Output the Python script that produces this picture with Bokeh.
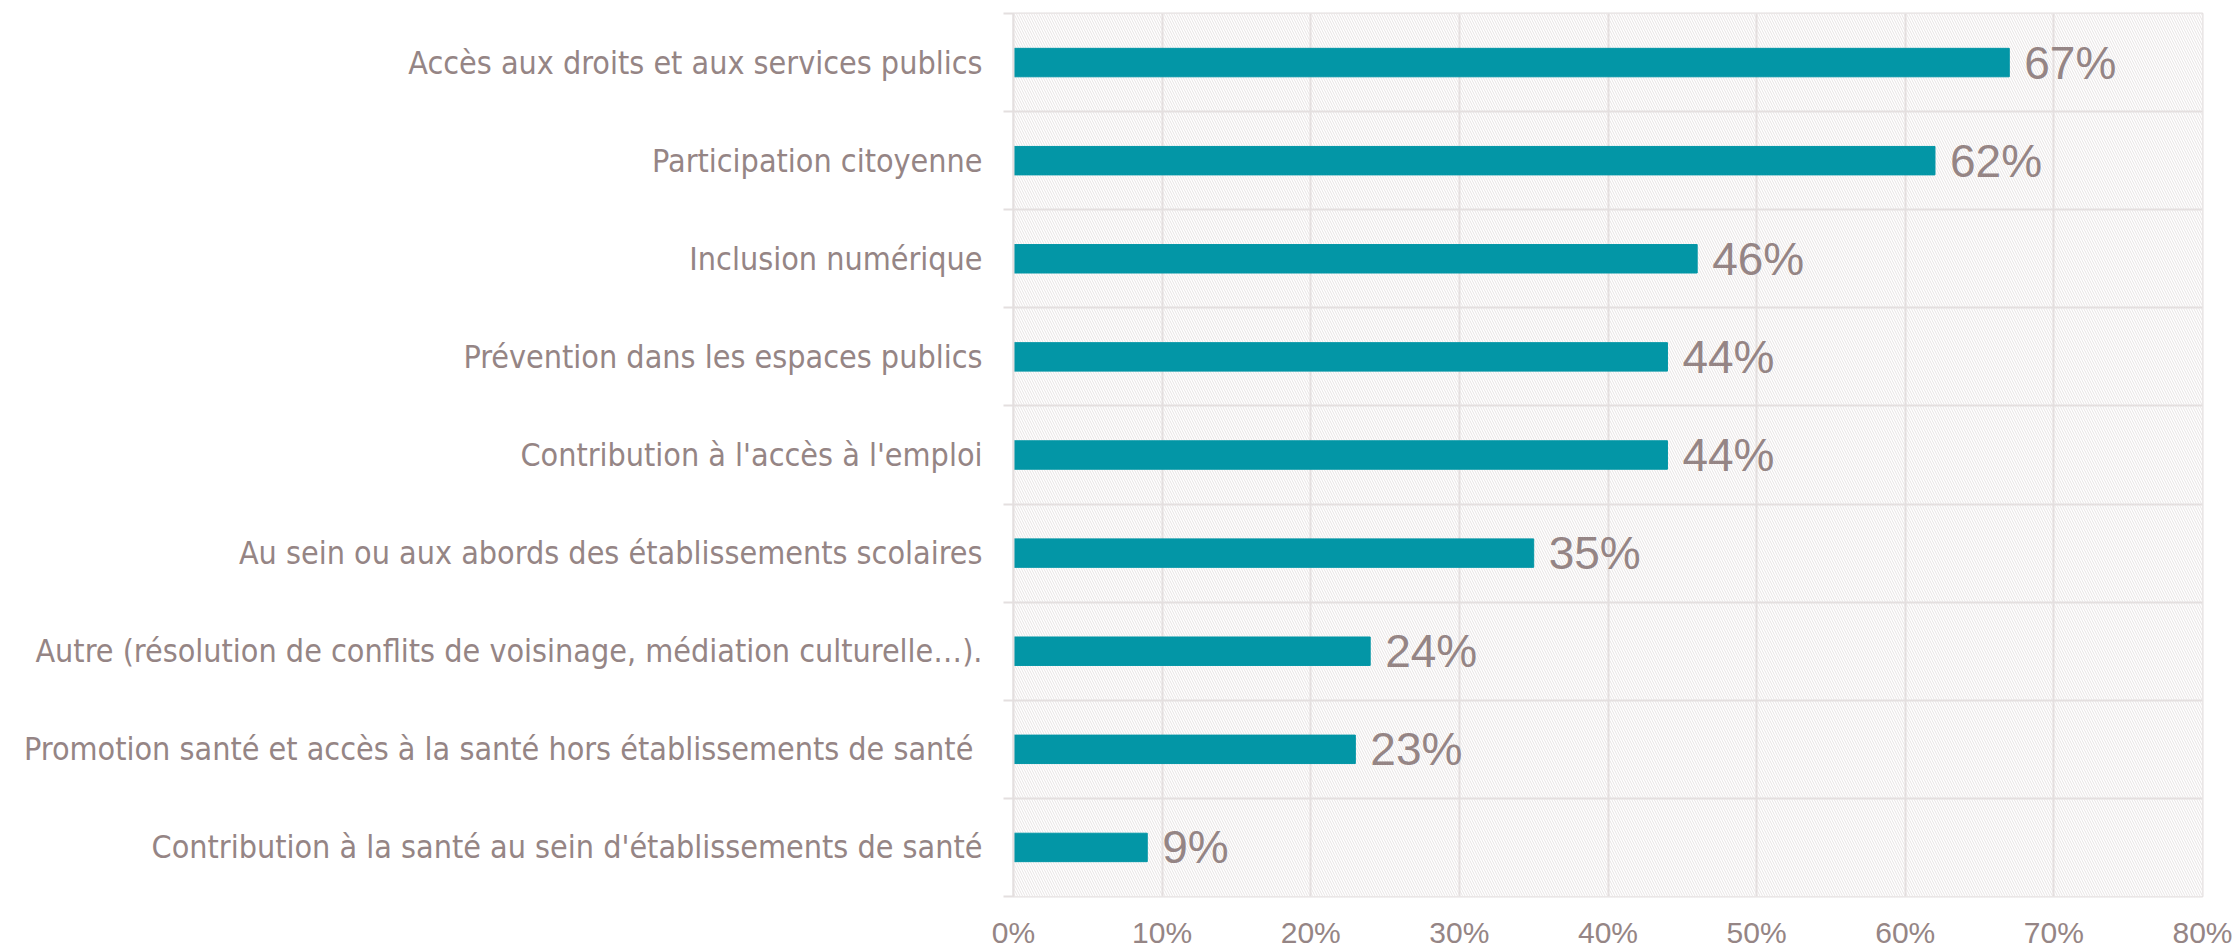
from bokeh.plotting import figure
from bokeh.models import Range1d, FixedTicker, NumeralTickFormatter, BoxAnnotation, ColumnDataSource
from bokeh.core.properties import value
from bokeh.embed import file_html
from bokeh.resources import INLINE

categories = [
    "Accès aux droits et aux services publics",
    "Participation citoyenne",
    "Inclusion numérique",
    "Prévention dans les espaces publics",
    "Contribution à l'accès à l'emploi",
    "Au sein ou aux abords des établissements scolaires",
    "Autre (résolution de conflits de voisinage, médiation culturelle…).",
    "Promotion santé et accès à la santé hors établissements de santé ",
    "Contribution à la santé au sein d'établissements de santé",
]
values = [0.67, 0.62, 0.46, 0.44, 0.44, 0.35, 0.24, 0.23, 0.09]
value_labels = ["67%", "62%", "46%", "44%", "44%", "35%", "24%", "23%", "9%"]
x_ticks = [0.0, 0.1, 0.2, 0.3, 0.4, 0.5, 0.6, 0.7, 0.8]

n = len(categories)
ypos = [n - i - 0.5 for i in range(n)]
boundaries = list(range(n + 1))

TEXT = "#958585"
GRID = "#e4dfdf"
BAR = "#0396a6"
NARROW = "'Liberation Sans Narrow', 'DejaVu Sans Condensed', sans-serif"

src = ColumnDataSource(dict(y=ypos, v=values, lab=value_labels))

p = figure(width=2234, height=951, output_backend="svg", toolbar_location=None,
           x_range=Range1d(0, 0.8), y_range=Range1d(0, n),
           min_border_left=1013, min_border_right=32, min_border_top=13, min_border_bottom=55)

p.add_layout(BoxAnnotation(fill_color="white", fill_alpha=1.0, line_color=None,
                           hatch_pattern="left_diagonal_line", hatch_color="#e8e4e4",
                           hatch_scale=5, hatch_weight=1, level="image"))

p.hbar(y="y", right="v", left=0, height=0.29, color=BAR, source=src)
p.text(x="v", y="y", text="lab", source=src, x_offset=15, text_baseline="middle",
       text_align="left", text_font=value("Liberation Sans"), text_font_size="46px",
       text_color=TEXT)

p.outline_line_color = GRID
p.outline_line_width = 2

p.xaxis.ticker = FixedTicker(ticks=x_ticks)
p.xaxis.formatter = NumeralTickFormatter(format="0%")
p.xaxis.axis_line_color = None
p.xaxis.major_tick_line_color = None
p.xaxis.minor_tick_line_color = None
p.xaxis.major_tick_out = 0
p.xaxis.major_tick_in = 0
p.xaxis.major_label_standoff = 19
p.xaxis.major_label_text_font = "Liberation Sans"
p.xaxis.major_label_text_font_size = "30px"
p.xaxis.major_label_text_color = TEXT

p.xgrid.ticker = FixedTicker(ticks=x_ticks)
p.xgrid.grid_line_color = GRID
p.xgrid.grid_line_width = 2

p.yaxis.ticker = FixedTicker(ticks=ypos, minor_ticks=boundaries)
p.yaxis.major_label_overrides = {y: c for y, c in zip(ypos, categories)}
p.yaxis.axis_line_color = GRID
p.yaxis.axis_line_width = 2
p.yaxis.major_tick_line_color = None
p.yaxis.major_tick_out = 0
p.yaxis.major_tick_in = 0
p.yaxis.minor_tick_line_color = GRID
p.yaxis.minor_tick_line_width = 2
p.yaxis.minor_tick_out = 10
p.yaxis.minor_tick_in = 0
p.yaxis.major_label_standoff = 21
p.yaxis.major_label_text_font = NARROW
p.yaxis.major_label_text_font_size = "32px"
p.yaxis.major_label_text_color = TEXT

p.ygrid.ticker = FixedTicker(ticks=boundaries)
p.ygrid.grid_line_color = GRID
p.ygrid.grid_line_width = 2

open("out.html", "w").write(file_html(p, INLINE))
